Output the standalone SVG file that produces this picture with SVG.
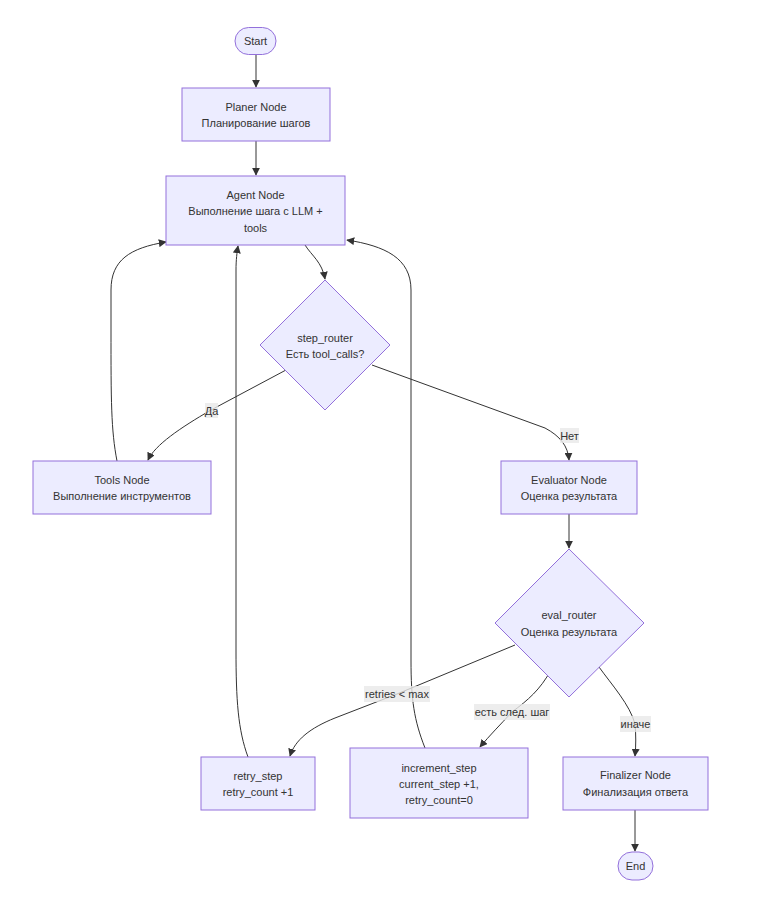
<svg xmlns="http://www.w3.org/2000/svg" width="778" height="900" viewBox="0 0 778 900">
<style>
.node rect,.node polygon{fill:#ECECFF;stroke:#9370DB;stroke-width:1}
.node text{font-family:"Trebuchet MS","Liberation Sans",Arial,sans-serif;font-size:11px;fill:#333;text-anchor:middle;dominant-baseline:central}
.edge{fill:none;stroke:#333;stroke-width:1}
.lbl rect{fill:#e8e8e8;fill-opacity:0.8;stroke:none}
.lbl text{font-family:"Trebuchet MS","Liberation Sans",Arial,sans-serif;font-size:11px;fill:#333;text-anchor:middle;dominant-baseline:central}
</style>
<defs>
<marker id="arr" viewBox="0 0 10 10" refX="9" refY="5" markerUnits="userSpaceOnUse" markerWidth="8" markerHeight="8" orient="auto">
<path d="M0,0 L10,5 L0,10 z" fill="#333"/>
</marker>
</defs>
<rect width="778" height="900" fill="#fff"/>
<g id="connectors">
<path class="edge" d="M256,54 L256,87" marker-end="url(#arr)"/>
<path class="edge" d="M256,141 L256,175" marker-end="url(#arr)"/>
<path class="edge" d="M305,245 C312,256 322,262 325,279" marker-end="url(#arr)"/>
<path class="edge" d="M286,370 L211,410 C180,428 155,445 148,460" marker-end="url(#arr)"/>
<path class="edge" d="M372,365 L545,428 C560,436 568,446 569,460" marker-end="url(#arr)"/>
<path class="edge" d="M117,461 C111,430 111,400 111,330 L111,290 C111,260 130,248 166,242" marker-end="url(#arr)"/>
<path class="edge" d="M248,757 C238,730 236,700 236,650 L236,270 C236,260 237,252 238,246" marker-end="url(#arr)"/>
<path class="edge" d="M425,748 C414,720 411,700 411,660 L411,290 C411,258 385,246 347,240" marker-end="url(#arr)"/>
<path class="edge" d="M569,514 L569,548" marker-end="url(#arr)"/>
<path class="edge" d="M515,645 L397,694 L335,718 C310,728 295,740 290,756" marker-end="url(#arr)"/>
<path class="edge" d="M551,670 C540,690 528,700 512,712 C500,725 490,735 480,747" marker-end="url(#arr)"/>
<path class="edge" d="M599,667 C612,685 630,705 635,724 C636,735 636,745 635,756" marker-end="url(#arr)"/>
<path class="edge" d="M635,810 L635,851" marker-end="url(#arr)"/>
</g>
<g id="edge-labels">
<g class="lbl"><rect x="205" y="403" width="13" height="15"/><text x="211.5" y="410.5">Да</text></g>
<g class="lbl"><rect x="560" y="428" width="19" height="15"/><text x="569.5" y="435.5">Нет</text></g>
<g class="lbl"><rect x="364" y="686" width="66" height="16"/><text x="397" y="694">retries &lt; max</text></g>
<g class="lbl"><rect x="474" y="704" width="76" height="16"/><text x="512" y="712">есть след. шаг</text></g>
<g class="lbl"><rect x="620" y="716" width="31" height="16"/><text x="635.5" y="724">иначе</text></g>
</g>
<g id="start" class="node"><rect x="235" y="27.5" width="41" height="27" rx="13.5" ry="13.5"/><text x="255.5" y="41">Start</text></g>
<g id="planer" class="node"><rect x="182" y="88" width="148" height="53"/><text x="256" y="106.5">Planer Node</text><text x="256" y="122.5">Планирование шагов</text></g>
<g id="agent" class="node"><rect x="166" y="176" width="179" height="69"/><text x="255.5" y="194.5">Agent Node</text><text x="255.5" y="211">Выполнение шага с LLM +</text><text x="255.5" y="227.5">tools</text></g>
<g id="step_router" class="node"><polygon points="325,280 390,345 325,410 260,345"/><text x="325" y="337.5">step_router</text><text x="325" y="353.5">Есть tool_calls?</text></g>
<g id="tools" class="node"><rect x="33" y="461" width="178" height="53"/><text x="122" y="480">Tools Node</text><text x="122" y="496">Выполнение инструментов</text></g>
<g id="evaluator" class="node"><rect x="501" y="461" width="136" height="53"/><text x="569" y="480">Evaluator Node</text><text x="569" y="496">Оценка результата</text></g>
<g id="eval_router" class="node"><polygon points="569,549 644,623 569,697 495,623"/><text x="569" y="615">eval_router</text><text x="569" y="632">Оценка результата</text></g>
<g id="retry_step" class="node"><rect x="201" y="757" width="114" height="53"/><text x="258" y="776">retry_step</text><text x="258" y="792">retry_count +1</text></g>
<g id="increment_step" class="node"><rect x="350" y="748" width="178" height="70"/><text x="439" y="767.5">increment_step</text><text x="439" y="783.5">current_step +1,</text><text x="439" y="799.5"> retry_count=0</text></g>
<g id="finalizer" class="node"><rect x="563" y="757" width="145" height="53"/><text x="635.5" y="775">Finalizer Node</text><text x="635.5" y="791.5">Финализация ответа</text></g>
<g id="end" class="node"><rect x="618" y="852" width="35" height="28" rx="14" ry="14"/><text x="635.5" y="866">End</text></g>
</svg>
